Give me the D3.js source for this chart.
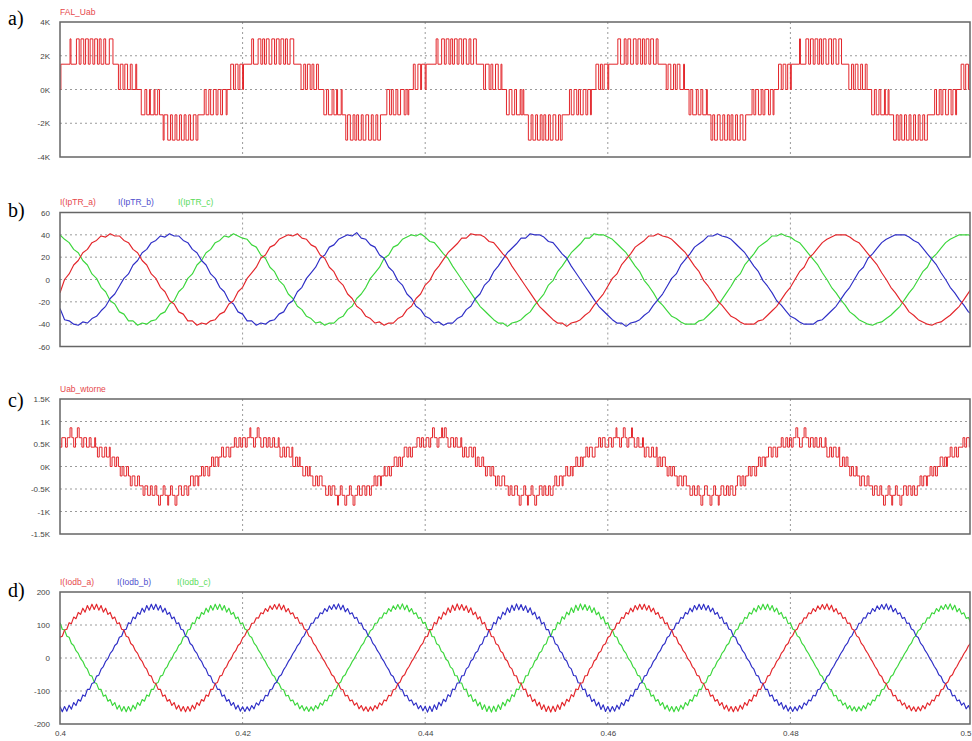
<!DOCTYPE html>
<html>
<head>
<meta charset="utf-8">
<script src="https://cdn.jsdelivr.net/npm/d3@7"></script>
<style>
  body { margin: 0; background: #fff; }
  svg { display: block; }
</style>
</head>
<body>
<svg id="scope" width="972" height="741"></svg>
<script>
// time axis (s)
const xTicks = [0.4, 0.42, 0.44, 0.46, 0.48, 0.5];
const xGrid = [0.42, 0.44, 0.46, 0.48];

// y ticks per panel
const ticksA = [-4, -2, 0, 2, 4];
const ticksB = [-60, -40, -20, 0, 20, 40, 60];
const ticksC = [-1.5, -1, -0.5, 0, 0.5, 1, 1.5];
const ticksD = [-200, -100, 0, 100, 200];

const titleA = "FAL_Uab";
const titleC = "Uab_wtorne";
const legendB = ["I(IpTR_a)", "I(IpTR_b)", "I(IpTR_c)"];
const legendD = ["I(Iodb_a)", "I(Iodb_b)", "I(Iodb_c)"];

// FAL_Uab, kV: [level, duration in 0.1 ms]
const falUab = [
  [0,1],[1.5,10],[3,1],[1.5,6],[3,3],[1.5,2],[3,3],[1.5,2],[3,3],[1.5,2],[3,3],[1.5,2],[3,3],[1.5,2],[3,2],[1.5,3],[3,2],[1.5,4],[3,4],[1.5,6],
  [0,2],[1.5,3],[0,2],[1.5,3],[0,3],[1.5,2],[0,4],[1.5,1],[0,5],
  [-1.5,4],[0,2],[-1.5,3],[0,1],[-1.5,4],[0,1],[-1.5,3],[0,2],[-1.5,4],
  [-3,1],[-1.5,4],[-3,3],[-1.5,2],[-3,3],[-1.5,2],[-3,3],[-1.5,2],[-3,3],[-1.5,2],[-3,3],[-1.5,2],[-3,3],[-1.5,3],[-3,2],[-1.5,7],
  [0,2],[-1.5,3],[0,2],[-1.5,3],[0,3],[-1.5,2],[0,3],[-1.5,2],[0,4],[-1.5,1],[0,4],
  [1.5,3],[0,2],[1.5,3],[0,2],[1.5,3],

  [0,1],[1.5,9],[3,2],[1.5,5],[3,3],[1.5,2],[3,2],[1.5,2],[3,3],[1.5,3],[3,3],[1.5,2],[3,3],[1.5,2],[3,3],[1.5,2],[3,2],[1.5,3],[3,4],[1.5,8],
  [0,3],[1.5,2],[0,2],[1.5,3],[0,2],[1.5,2],[0,3],[1.5,2],[0,6],
  [-1.5,3],[0,2],[-1.5,4],[0,2],[-1.5,3],[0,1],[-1.5,4],[0,1],[-1.5,4],
  [-3,2],[-1.5,3],[-3,3],[-1.5,2],[-3,2],[-1.5,2],[-3,3],[-1.5,2],[-3,3],[-1.5,3],[-3,3],[-1.5,2],[-3,3],[-1.5,2],[-3,3],[-1.5,7],
  [0,3],[-1.5,2],[0,2],[-1.5,3],[0,2],[-1.5,3],[0,4],[-1.5,2],[0,2],[-1.5,1],[0,5],
  [1.5,2],[0,3],[1.5,3],[0,1],[1.5,4],

  [0,1],[1.5,11],[3,2],[1.5,4],[3,3],[1.5,2],[3,3],[1.5,2],[3,2],[1.5,2],[3,3],[1.5,2],[3,3],[1.5,2],[3,3],[1.5,3],[3,2],[1.5,3],[3,3],[1.5,8],
  [0,2],[1.5,4],[0,2],[1.5,2],[0,3],[1.5,3],[0,3],[1.5,1],[0,5],
  [-1.5,3],[0,3],[-1.5,3],[0,2],[-1.5,4],[0,1],[-1.5,2],[0,1],[-1.5,5],
  [-3,3],[-1.5,2],[-3,3],[-1.5,2],[-3,3],[-1.5,2],[-3,2],[-1.5,2],[-3,3],[-1.5,2],[-3,3],[-1.5,3],[-3,3],[-1.5,2],[-3,2],[-1.5,8],
  [0,2],[-1.5,3],[0,3],[-1.5,2],[0,2],[-1.5,3],[0,3],[-1.5,2],[0,3],[-1.5,1],[0,5],
  [1.5,3],[0,2],[1.5,2],[0,2],[1.5,4],

  [0,1],[1.5,10],[3,3],[1.5,4],[3,2],[1.5,2],[3,3],[1.5,3],[3,3],[1.5,2],[3,3],[1.5,2],[3,2],[1.5,2],[3,3],[1.5,2],[3,3],[1.5,3],[3,2],[1.5,9],
  [0,2],[1.5,3],[0,3],[1.5,2],[0,2],[1.5,3],[0,4],[1.5,1],[0,5],
  [-1.5,2],[0,2],[-1.5,4],[0,2],[-1.5,3],[0,2],[-1.5,4],[0,1],[-1.5,4],
  [-3,2],[-1.5,2],[-3,3],[-1.5,3],[-3,3],[-1.5,2],[-3,3],[-1.5,2],[-3,2],[-1.5,2],[-3,3],[-1.5,2],[-3,3],[-1.5,3],[-3,3],[-1.5,7],
  [0,2],[-1.5,2],[0,3],[-1.5,3],[0,2],[-1.5,2],[0,4],[-1.5,2],[0,3],[-1.5,1],[0,5],
  [1.5,3],[0,2],[1.5,3],[0,2],[1.5,3],

  [0,1],[1.5,9],[3,1],[1.5,6],[3,3],[1.5,2],[3,3],[1.5,2],[3,3],[1.5,2],[3,2],[1.5,2],[3,3],[1.5,3],[3,3],[1.5,2],[3,3],[1.5,3],[3,3],[1.5,8],
  [0,3],[1.5,2],[0,2],[1.5,3],[0,3],[1.5,2],[0,3],[1.5,2],[0,5],
  [-1.5,3],[0,2],[-1.5,3],[0,2],[-1.5,4],[0,1],[-1.5,3],[0,1],[-1.5,5],
  [-3,3],[-1.5,2],[-3,2],[-1.5,2],[-3,3],[-1.5,2],[-3,3],[-1.5,2],[-3,3],[-1.5,2],[-3,3],[-1.5,2],[-3,3],[-1.5,2],[-3,3],[-1.5,8],
  [0,2],[-1.5,3],[0,2],[-1.5,2],[0,3],[-1.5,3],[0,3],[-1.5,2],[0,3],[-1.5,1],[0,5],
  [1.5,3],[0,2],[1.5,3],[0,2],[1.5,3]
];

// Uab_wtorne, kV: [level, duration in 0.1 ms]
const uabWtorne = [
  [0.43,2],[0.64,4],[0.43,2],[0.64,3],[0.86,2],[0.64,2],[0.43,2],[0.64,2],[0.86,2],[0.64,3],[0.43,2],[0.64,3],[0.43,3],[0.64,2],[0.43,4],[0.64,1],[0.43,2],
  [0.21,2],[0.43,3],[0.21,3],[0.43,2],[0.21,3],[0.43,1],
  [0,2],[0.21,3],[0,2],[0.21,2],[0,2],
  [-0.21,2],[0,2],[-0.21,3],[0,2],[-0.21,2],
  [-0.43,2],[-0.21,3],[-0.43,3],[-0.21,2],[-0.43,4],
  [-0.64,2],[-0.43,3],[-0.64,3],[-0.43,2],[-0.64,3],[-0.43,2],[-0.64,2],[-0.86,2],[-0.64,3],[-0.43,2],[-0.64,3],[-0.86,1],[-0.64,2],[-0.43,2],[-0.64,3],[-0.86,2],[-0.64,2],[-0.43,3],[-0.64,3],[-0.43,3],[-0.64,2],
  [-0.43,2],[-0.21,3],[-0.43,2],[-0.21,3],[-0.43,1],[-0.21,3],
  [0,2],[-0.21,2],[0,3],[-0.21,2],[0,2],
  [0.21,2],[0,2],[0.21,3],[0,1],[0.21,3],
  [0.43,2],[0.21,3],[0.43,3],[0.21,2],[0.43,4],
  [0.64,2],[0.43,3],[0.64,2],[0.43,2],

  [0.64,3],[0.43,2],[0.64,3],[0.86,1],[0.64,3],[0.43,2],[0.64,2],[0.86,2],[0.64,2],[0.43,3],[0.64,3],[0.43,2],[0.64,2],[0.43,3],[0.64,2],[0.43,4],[0.64,1],[0.43,1],
  [0.21,3],[0.43,2],[0.21,2],[0.43,3],[0.21,3],[0.43,1],
  [0,3],[0.21,2],[0,2],[0.21,1],[0,3],
  [-0.21,3],[0,2],[-0.21,2],[0,1],[-0.21,3],
  [-0.43,3],[-0.21,2],[-0.43,2],[-0.21,3],[-0.43,4],
  [-0.64,3],[-0.43,2],[-0.64,2],[-0.43,3],[-0.64,3],[-0.86,1],[-0.64,2],[-0.43,2],[-0.64,3],[-0.86,2],[-0.64,3],[-0.43,2],[-0.64,2],[-0.86,2],[-0.64,3],[-0.43,2],[-0.64,3],[-0.43,3],[-0.64,2],[-0.43,3],[-0.64,2],
  [-0.43,3],[-0.21,2],[-0.43,2],[-0.21,3],[-0.43,1],[-0.21,3],
  [0,1],[-0.21,3],[0,2],[-0.21,2],[0,3],
  [0.21,3],[0,2],[0.21,2],[0,2],[0.21,2],
  [0.43,3],[0.21,2],[0.43,2],[0.21,2],[0.43,5],
  [0.64,3],[0.43,2],[0.64,2],[0.43,2],

  [0.43,1],[0.64,3],[0.43,2],[0.64,2],[0.86,2],[0.64,3],[0.43,2],[0.64,3],[0.86,1],[0.64,2],[0.86,2],[0.64,2],[0.43,3],[0.64,3],[0.43,2],[0.64,2],[0.43,4],[0.64,1],[0.43,1],
  [0.21,2],[0.43,2],[0.21,3],[0.43,3],[0.21,2],[0.43,2],
  [0,2],[0.21,2],[0,3],[0.21,2],[0,2],
  [-0.21,2],[0,3],[-0.21,2],[0,2],[-0.21,2],
  [-0.43,2],[-0.21,2],[-0.43,3],[-0.21,3],[-0.43,4],
  [-0.64,2],[-0.43,2],[-0.64,3],[-0.43,3],[-0.64,2],[-0.86,2],[-0.64,3],[-0.43,2],[-0.64,2],[-0.86,1],[-0.64,3],[-0.43,2],[-0.64,2],[-0.86,2],[-0.64,3],[-0.43,3],[-0.64,2],[-0.43,2],[-0.64,3],[-0.43,2],[-0.64,3],
  [-0.43,2],[-0.21,2],[-0.43,3],[-0.21,3],[-0.43,1],[-0.21,3],
  [0,2],[-0.21,3],[0,2],[-0.21,1],[0,3],
  [0.21,2],[0,3],[0.21,2],[0,1],[0.21,3],
  [0.43,2],[0.21,2],[0.43,3],[0.21,3],[0.43,4],
  [0.64,2],[0.43,2],[0.64,3],[0.43,2],

  [0.43,2],[0.64,3],[0.43,2],[0.64,3],[0.86,1],[0.64,3],[0.43,2],[0.64,2],[0.86,2],[0.64,2],[0.43,2],[0.64,3],[0.86,1],[0.64,2],[0.43,3],[0.64,2],[0.43,4],[0.64,1],[0.43,1],
  [0.21,2],[0.43,3],[0.21,3],[0.43,2],[0.21,3],[0.43,1],
  [0,2],[0.21,2],[0,2],[0.21,3],[0,2],
  [-0.21,2],[0,2],[-0.21,2],[0,2],[-0.21,3],
  [-0.43,2],[-0.21,3],[-0.43,2],[-0.21,3],[-0.43,4],
  [-0.64,3],[-0.43,2],[-0.64,3],[-0.43,2],[-0.64,2],[-0.86,2],[-0.64,2],[-0.43,3],[-0.64,3],[-0.86,2],[-0.64,2],[-0.43,2],[-0.64,3],[-0.86,1],[-0.64,2],[-0.43,3],[-0.64,3],[-0.43,2],[-0.64,2],[-0.43,3],[-0.64,3],
  [-0.43,2],[-0.21,3],[-0.43,2],[-0.21,2],[-0.43,2],[-0.21,3],
  [0,2],[-0.21,2],[0,3],[-0.21,2],[0,2],
  [0.21,2],[0,2],[0.21,3],[0,1],[0.21,3],
  [0.43,3],[0.21,2],[0.43,3],[0.21,2],[0.43,4],
  [0.64,2],[0.43,3],[0.64,2],[0.43,2],

  [0.64,2],[0.43,2],[0.64,3],[0.86,2],[0.64,2],[0.43,3],[0.64,2],[0.86,2],[0.64,3],[0.43,2],[0.64,3],[0.43,2],[0.64,2],[0.43,3],[0.64,2],[0.43,4],[0.64,1],[0.43,1],
  [0.21,3],[0.43,2],[0.21,2],[0.43,3],[0.21,3],[0.43,1],
  [0,3],[0.21,2],[0,2],[0.21,2],[0,2],
  [-0.21,2],[0,2],[-0.21,3],[0,1],[-0.21,3],
  [-0.43,2],[-0.21,3],[-0.43,3],[-0.21,2],[-0.43,4],
  [-0.64,2],[-0.43,3],[-0.64,3],[-0.43,2],[-0.64,2],[-0.86,2],[-0.64,3],[-0.43,2],[-0.64,2],[-0.86,1],[-0.64,3],[-0.43,2],[-0.64,3],[-0.86,2],[-0.64,2],[-0.43,3],[-0.64,2],[-0.43,3],[-0.64,2],[-0.43,2],[-0.64,3],
  [-0.43,3],[-0.21,2],[-0.43,2],[-0.21,3],[-0.43,1],[-0.21,3],
  [0,2],[-0.21,2],[0,2],[-0.21,2],[0,3],
  [0.21,3],[0,2],[0.21,2],[0,1],[0.21,3],
  [0.43,2],[0.21,3],[0.43,2],[0.21,2],[0.43,5],
  [0.64,2],[0.43,2],[0.64,3],[0.43,2]
];

// I(IpTR_a/b/c), A, one sample every 0.5 ms
const ipTrA = [
  -12,0,5,13,17,24,27,33,35,39,38,41,39,39,35,33,27,24,17,13,5,1,-7,-11,-19,-22,-29,-31,-37,-37,-41,-39,-40,-37,-36,-31,-29,-22,-19,-11,
  -7,1,6,11,19,22,29,31,36,38,40,39,41,37,36,31,29,22,19,11,7,-1,-5,-13,-17,-24,-27,-33,-35,-39,-38,-41,-39,-39,-35,-33,-27,-24,-17,-13,
  -5,-1,7,12,18,24,28,32,37,37,41,40,40,38,34,33,28,23,19,12,6,0,-6,-12,-18,-24,-28,-32,-36,-39,-39,-42,-39,-38,-36,-32,-29,-23,-18,-13,
  -6,1,5,13,18,23,29,32,35,39,39,41,39,38,36,32,28,24,18,12,7,-1,-6,-12,-19,-23,-28,-33,-35,-38,-40,-40,-40,-37,-36,-32,-28,-24,-18,-12,
  -7,0,7,11,19,23,28,33,36,38,40,40,40,38,35,33,28,23,18,13,6,0,-7,-12,-18,-23,-29,-32,-36,-38,-40,-41,-39,-38,-35,-32,-28,-24,-18,-12,
  -6
];
const ipTrB = [
  -26,-36,-37,-40,-41,-38,-39,-35,-33,-28,-24,-17,-13,-6,1,5,13,17,24,27,33,35,39,38,41,39,39,35,33,27,24,17,13,5,1,-7,-11,-19,-22,-29,
  -31,-37,-37,-41,-39,-40,-37,-36,-31,-29,-22,-19,-11,-7,1,6,11,19,22,29,31,36,38,40,39,42,37,36,31,29,22,19,11,7,-1,-5,-13,-17,-24,-27,
  -33,-35,-39,-38,-41,-39,-39,-35,-33,-27,-24,-17,-13,-5,-1,7,12,18,24,28,32,37,37,41,40,40,38,34,33,28,23,19,12,6,0,-6,-12,-18,-24,-28,
  -32,-36,-39,-39,-42,-39,-38,-36,-32,-29,-23,-18,-13,-6,1,5,13,18,23,29,32,35,39,39,41,39,38,36,32,28,24,18,12,7,-1,-6,-12,-19,-23,-28,
  -33,-35,-38,-40,-40,-40,-37,-36,-32,-28,-24,-18,-12,-7,0,7,11,19,23,28,33,36,38,40,40,40,38,35,33,28,23,18,13,6,0,-7,-12,-18,-23,-29,
  -32
];
const ipTrC = [
  40,36,33,27,24,17,13,5,1,-7,-11,-19,-22,-29,-31,-37,-37,-41,-39,-40,-37,-36,-31,-29,-22,-19,-11,-7,1,5,13,17,24,27,33,35,39,38,41,39,
  37,36,31,29,22,19,11,7,-1,-5,-13,-17,-24,-27,-33,-35,-39,-38,-41,-39,-39,-35,-33,-27,-24,-17,-13,-7,1,6,11,19,22,29,31,36,38,40,39,41,
  38,34,33,28,23,19,12,6,0,-6,-12,-18,-24,-28,-32,-36,-39,-39,-42,-39,-38,-36,-32,-29,-23,-18,-13,-5,-1,7,12,18,24,28,32,37,37,41,40,40,
  38,36,32,28,24,18,12,7,-1,-6,-12,-19,-23,-28,-33,-35,-38,-40,-40,-40,-37,-36,-32,-28,-24,-18,-12,-6,1,5,13,18,23,29,32,35,39,39,41,39,
  38,35,33,28,23,18,13,6,0,-7,-12,-18,-23,-29,-32,-36,-38,-40,-41,-39,-38,-35,-32,-28,-24,-18,-12,-7,0,7,11,19,23,28,33,36,38,40,40,40,
  38
];

// I(Iodb_a/b/c), A, one sample every 0.25 ms
const iodbA = [
  63,66,85,87,107,104,124,119,138,132,151,139,159,145,163,147,163,145,159,139,151,132,138,119,124,104,107,87,85,66,63,44,38,22,14,-2,-10,-26,-34,-52,
  -55,-74,-77,-95,-95,-116,-112,-131,-126,-144,-135,-155,-143,-161,-147,-163,-147,-161,-143,-155,-135,-144,-126,-131,-112,-116,-95,-95,-77,-74,-55,-52,-34,-26,-10,-2,14,22,38,44,
  61,68,83,88,105,106,122,121,137,134,150,141,158,147,162,148,164,146,160,140,150,133,137,120,123,105,106,88,84,67,62,45,37,23,13,-1,-11,-25,-35,-51,
  -56,-73,-78,-94,-96,-115,-113,-130,-127,-143,-136,-154,-144,-160,-148,-162,-148,-160,-144,-154,-136,-143,-127,-130,-113,-115,-96,-94,-78,-73,-56,-51,-35,-25,-11,-1,13,23,37,45,
  64,65,86,86,108,103,125,118,139,131,152,138,160,144,164,146,162,144,158,138,152,131,139,118,125,103,108,86,86,65,64,43,39,21,15,-3,-9,-27,-33,-53,
  -54,-75,-76,-96,-94,-117,-111,-132,-125,-145,-134,-156,-142,-162,-146,-164,-146,-162,-142,-156,-134,-145,-125,-132,-111,-117,-94,-96,-76,-75,-54,-53,-33,-27,-9,-3,15,21,39,43,
  62,67,84,88,106,105,123,120,138,133,151,140,159,146,163,147,163,145,159,140,151,132,138,120,124,104,107,88,85,66,63,44,38,22,14,-2,-10,-26,-34,-52,
  -55,-74,-77,-95,-95,-116,-112,-131,-126,-144,-135,-155,-143,-161,-147,-163,-147,-161,-143,-155,-135,-144,-126,-131,-112,-116,-95,-95,-77,-74,-55,-52,-34,-26,-10,-2,14,22,38,44,
  61,68,83,88,105,106,122,121,137,134,150,141,158,147,162,148,164,146,160,140,150,133,137,120,123,105,106,88,84,67,62,45,37,23,13,-1,-11,-25,-35,-51,
  -56,-73,-78,-94,-96,-115,-113,-130,-127,-143,-136,-154,-144,-160,-148,-162,-148,-160,-144,-154,-136,-143,-127,-130,-113,-115,-96,-94,-78,-73,-56,-51,-35,-25,-11,-1,13,23,37,45,
  63
];
const iodbB = [
  -147,-163,-147,-161,-143,-155,-135,-144,-126,-131,-112,-116,-95,-95,-77,-74,-55,-52,-34,-26,-10,-2,14,22,38,44,63,66,85,87,107,104,124,119,138,132,151,139,159,145,
  163,147,163,145,159,139,151,132,138,119,124,104,107,87,85,66,63,44,38,22,14,-2,-10,-26,-34,-52,-55,-74,-77,-95,-95,-116,-112,-131,-126,-144,-135,-155,-143,-161,
  -148,-162,-148,-160,-144,-154,-136,-143,-127,-130,-113,-115,-96,-94,-78,-73,-56,-51,-35,-25,-11,-1,13,23,37,45,61,68,83,88,105,106,122,121,137,134,150,141,158,147,
  162,148,164,146,160,140,150,133,137,120,123,105,106,88,84,67,62,45,37,23,13,-1,-11,-25,-35,-51,-56,-73,-78,-94,-96,-115,-113,-130,-127,-143,-136,-154,-144,-160,
  -146,-164,-146,-162,-142,-156,-134,-145,-125,-132,-111,-117,-94,-96,-76,-75,-54,-53,-33,-27,-9,-3,15,21,39,43,64,65,86,86,108,103,125,118,139,131,152,138,160,144,
  164,146,162,144,158,138,152,131,139,118,125,103,108,86,86,65,64,43,39,21,15,-3,-9,-27,-33,-53,-54,-75,-76,-96,-94,-117,-111,-132,-125,-145,-134,-156,-142,-162,
  -147,-163,-147,-161,-143,-155,-135,-144,-126,-131,-112,-116,-95,-95,-77,-74,-55,-52,-34,-26,-10,-2,14,22,38,44,62,67,84,88,106,105,123,120,138,133,151,140,159,146,
  163,147,163,145,159,140,151,132,138,120,124,104,107,88,85,66,63,44,38,22,14,-2,-10,-26,-34,-52,-55,-74,-77,-95,-95,-116,-112,-131,-126,-144,-135,-155,-143,-161,
  -148,-162,-148,-160,-144,-154,-136,-143,-127,-130,-113,-115,-96,-94,-78,-73,-56,-51,-35,-25,-11,-1,13,23,37,45,61,68,83,88,105,106,122,121,137,134,150,141,158,147,
  162,148,164,146,160,140,150,133,137,120,123,105,106,88,84,67,62,45,37,23,13,-1,-11,-25,-35,-51,-56,-73,-78,-94,-96,-115,-113,-130,-127,-143,-136,-154,-144,-160,
  -147
];
const iodbC = [
  107,87,85,66,63,44,38,22,14,-2,-10,-26,-34,-52,-55,-74,-77,-95,-95,-116,-112,-131,-126,-144,-135,-155,-143,-161,-147,-163,-147,-161,-143,-155,-135,-144,-126,-131,-112,-116,
  -95,-95,-77,-74,-55,-52,-34,-26,-10,-2,14,22,38,44,63,66,85,87,107,104,124,119,138,132,151,139,159,145,163,147,163,145,159,139,151,132,138,119,124,104,
  106,88,84,67,62,45,37,23,13,-1,-11,-25,-35,-51,-56,-73,-78,-94,-96,-115,-113,-130,-127,-143,-136,-154,-144,-160,-148,-162,-148,-160,-144,-154,-136,-143,-127,-130,-113,-115,
  -96,-94,-78,-73,-56,-51,-35,-25,-11,-1,13,23,37,45,61,68,83,88,105,106,122,121,137,134,150,141,158,147,162,148,164,146,160,140,150,133,137,120,123,105,
  108,86,86,65,64,43,39,21,15,-3,-9,-27,-33,-53,-54,-75,-76,-96,-94,-117,-111,-132,-125,-145,-134,-156,-142,-162,-146,-164,-146,-162,-142,-156,-134,-145,-125,-132,-111,-117,
  -94,-96,-76,-75,-54,-53,-33,-27,-9,-3,15,21,39,43,64,65,86,86,108,103,125,118,139,131,152,138,160,144,164,146,162,144,158,138,152,131,139,118,125,103,
  107,88,85,66,63,44,38,22,14,-2,-10,-26,-34,-52,-55,-74,-77,-95,-95,-116,-112,-131,-126,-144,-135,-155,-143,-161,-147,-163,-147,-161,-143,-155,-135,-144,-126,-131,-112,-116,
  -95,-95,-77,-74,-55,-52,-34,-26,-10,-2,14,22,38,44,62,67,84,88,106,105,123,120,138,133,151,140,159,146,163,147,163,145,159,140,151,132,138,120,124,104,
  106,88,84,67,62,45,37,23,13,-1,-11,-25,-35,-51,-56,-73,-78,-94,-96,-115,-113,-130,-127,-143,-136,-154,-144,-160,-148,-162,-148,-160,-144,-154,-136,-143,-127,-130,-113,-115,
  -96,-94,-78,-73,-56,-51,-35,-25,-11,-1,13,23,37,45,61,68,83,88,105,106,122,121,137,134,150,141,158,147,162,148,164,146,160,140,150,133,137,120,123,105,
  107
];

const t0 = 0.4;
const pwmStep = 0.0001, stepB = 0.0005, stepD = 0.00025;

const RED = "#e3262b", BLUE = "#2e2ec6", GREEN = "#3bd63b";

const svg = d3.select("#scope");
const plotL = 60, plotR = 970;
const x = d3.scaleLinear().domain([0.4, 0.5]).range([60, 973]);

const font = "'Liberation Sans', Arial, sans-serif";

function stepPoints(segs) {
  let n = 0;
  const pts = [];
  segs.forEach(([v, d]) => { pts.push([t0 + n * pwmStep, v]); n += d; });
  pts.push([t0 + n * pwmStep, segs[segs.length - 1][0]]);
  return pts;
}
function samplePoints(vals, dt) {
  return vals.map((v, i) => [t0 + i * dt, v]);
}

const panels = [
  { key: "a", top: 22, bottom: 157, domain: [-4, 4], ticks: ticksA, fmt: d => `${d}K`, letterY: 25,
    labels: [{ text: titleA, x: 60, color: RED }], labelY: 14.5,
    series: [{ pts: stepPoints(falUab), color: RED, step: true }] },
  { key: "b", top: 212.5, bottom: 346.5, domain: [-60, 60], ticks: ticksB, fmt: d => `${d}`, letterY: 217,
    labels: [{ text: legendB[0], x: 60, color: RED }, { text: legendB[1], x: 118, color: BLUE }, { text: legendB[2], x: 178, color: GREEN }], labelY: 205,
    series: [{ pts: samplePoints(ipTrC, stepB), color: GREEN }, { pts: samplePoints(ipTrB, stepB), color: BLUE }, { pts: samplePoints(ipTrA, stepB), color: RED }] },
  { key: "c", top: 399, bottom: 534, domain: [-1.5, 1.5], ticks: ticksC, fmt: d => `${d}K`, letterY: 407,
    labels: [{ text: titleC, x: 60, color: RED }], labelY: 392,
    series: [{ pts: stepPoints(uabWtorne), color: RED, step: true }] },
  { key: "d", top: 592, bottom: 724, domain: [-200, 200], ticks: ticksD, fmt: d => `${d}`, letterY: 597,
    labels: [{ text: legendD[0], x: 60, color: RED }, { text: legendD[1], x: 117, color: BLUE }, { text: legendD[2], x: 177, color: GREEN }], labelY: 585,
    series: [{ pts: samplePoints(iodbC, stepD), color: GREEN }, { pts: samplePoints(iodbB, stepD), color: BLUE }, { pts: samplePoints(iodbA, stepD), color: RED }] }
];

panels.forEach(p => {
  const y = d3.scaleLinear().domain(p.domain).range([p.bottom, p.top]);
  const g = svg.append("g");

  g.append("clipPath").attr("id", "clip-" + p.key)
    .append("rect").attr("x", plotL).attr("y", p.top)
    .attr("width", plotR - plotL).attr("height", p.bottom - p.top);

  // dotted grid
  g.selectAll("line.hgrid").data(p.ticks.slice(1, -1)).enter().append("line")
    .attr("x1", plotL).attr("x2", plotR)
    .attr("y1", d => y(d)).attr("y2", d => y(d))
    .attr("stroke", "#9a9a9a").attr("stroke-width", 1).attr("stroke-dasharray", "2,3");
  g.selectAll("line.vgrid").data(xGrid).enter().append("line")
    .attr("x1", d => x(d)).attr("x2", d => x(d))
    .attr("y1", p.top).attr("y2", p.bottom)
    .attr("stroke", "#9a9a9a").attr("stroke-width", 1).attr("stroke-dasharray", "2,3");

  // y axis labels
  const ax = g.append("g").attr("transform", `translate(${plotL},0)`)
    .call(d3.axisLeft(y).tickValues(p.ticks).tickSize(0).tickPadding(10).tickFormat(p.fmt));
  ax.select(".domain").remove();
  ax.selectAll("text").attr("font-family", font).attr("font-size", 8).attr("fill", "#444");

  // traces
  const plot = g.append("g").attr("clip-path", `url(#clip-${p.key})`);
  p.series.forEach(s => {
    const line = d3.line().x(d => x(d[0])).y(d => y(d[1]))
      .curve(s.step ? d3.curveStepAfter : d3.curveLinear);
    plot.append("path").datum(s.pts)
      .attr("d", line).attr("fill", "none")
      .attr("stroke", s.color).attr("stroke-width", s.step ? 1 : 1.15)
      .attr("stroke-linejoin", "round");
  });

  // frame
  g.append("rect").attr("x", plotL).attr("y", p.top)
    .attr("width", plotR - plotL).attr("height", p.bottom - p.top)
    .attr("fill", "none").attr("stroke", "#666").attr("stroke-width", 1.5);

  // trace names
  g.selectAll("text.lbl").data(p.labels).enter().append("text")
    .attr("x", d => d.x).attr("y", p.labelY)
    .attr("font-family", font).attr("font-size", 8.5)
    .attr("fill", d => d.color).attr("opacity", 0.85)
    .text(d => d.text);

  // panel letter
  g.append("text").attr("x", 8).attr("y", p.letterY)
    .attr("font-family", "'Liberation Serif', 'Times New Roman', serif")
    .attr("font-size", 20).attr("fill", "#000")
    .text(p.key + ")");
});

// time axis under the last panel
const xa = svg.append("g").attr("transform", "translate(0,724)")
  .call(d3.axisBottom(x).tickValues(xTicks).tickSize(0).tickPadding(6).tickFormat(d3.format("~g")));
xa.select(".domain").remove();
xa.selectAll("text").attr("font-family", font).attr("font-size", 8).attr("fill", "#444");
// last label sits at the window edge: keep it inside
xa.selectAll(".tick").filter(d => d === 0.5).select("text")
  .attr("text-anchor", "end").attr("x", -2);
</script>
</body>
</html>
